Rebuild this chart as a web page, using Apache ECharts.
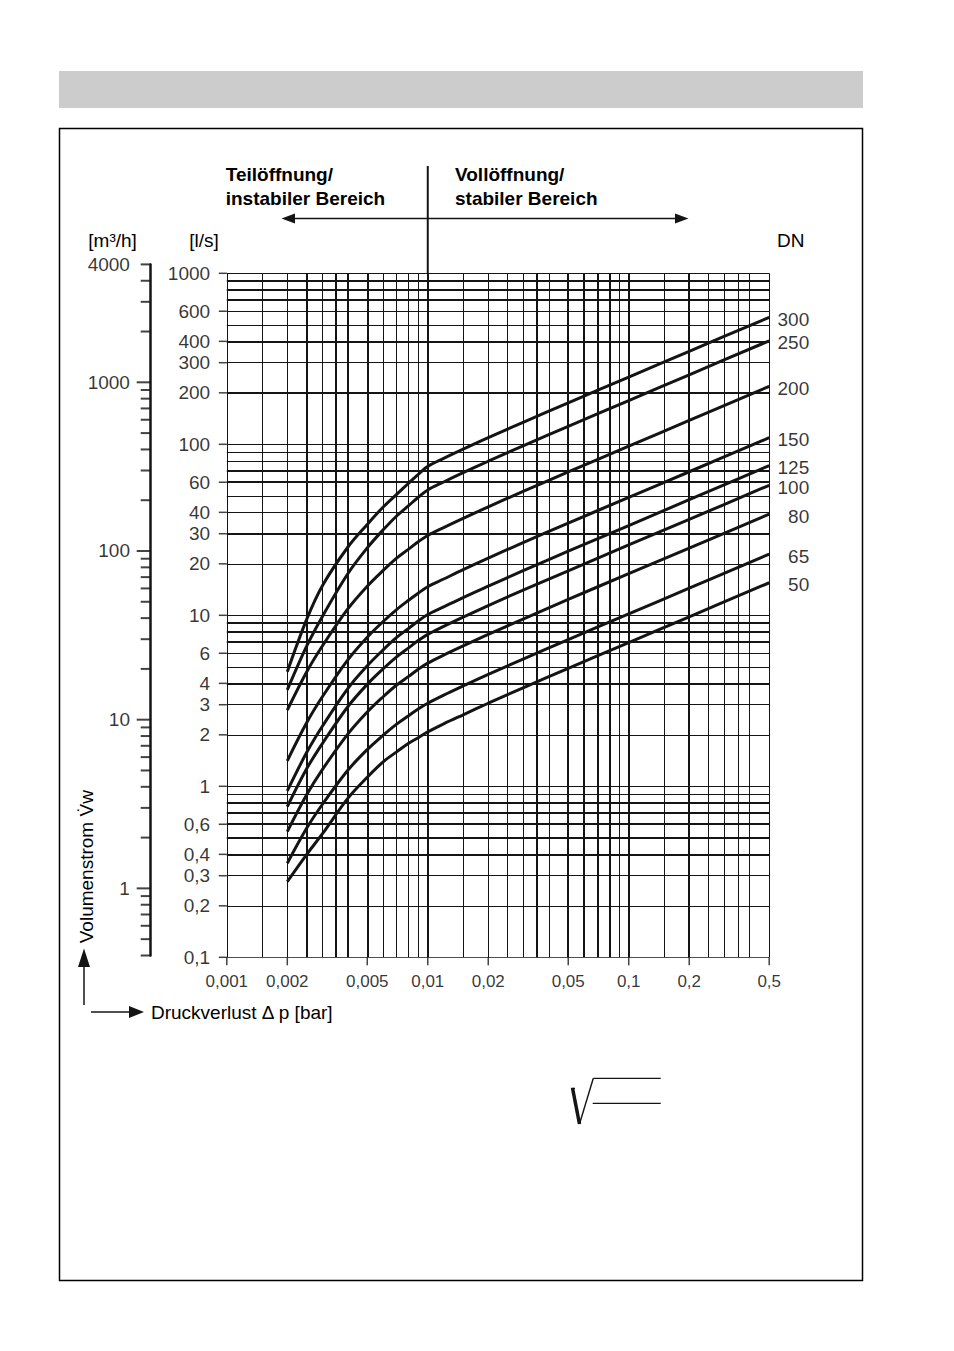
<!DOCTYPE html>
<html><head><meta charset="utf-8">
<script src="https://cdn.jsdelivr.net/npm/echarts@6/dist/echarts.min.js"></script>
<style>html,body{margin:0;padding:0;background:#fff;overflow:hidden}#c{width:954px;height:1351px}</style>
</head><body><div id="c"></div>
<script>
// ---- data ----
const pressureDrop = [0.002,0.0025,0.003,0.004,0.005,0.006,0.007,0.008,0.009,0.01,0.012,0.015,0.02,0.03,0.05,0.1,0.2,0.5];
const dn300 = [4.68,9.5,15,25,34,43,51,59,67,74.3,82.7,93.6,109.3,134.9,174.9,247.3,349.8,553];
const dn250 = [3.66,6.62,9.92,17.5,24.8,31.6,38.1,43.6,49.2,54.1,60.2,68.2,79.6,98.3,127.4,180.2,254.9,403];
const dn200 = [2.79,4.68,6.66,10.9,14.8,18.3,21.6,24.3,27.0,29.3,32.6,36.9,43.1,53.2,68.9,97.5,137.9,218];
const dn150 = [1.41,2.36,3.36,5.49,7.45,9.2,10.8,12.2,13.5,14.7,16.3,18.5,21.6,26.7,34.6,48.9,69.1,109.3];
const dn125 = [0.94,1.58,2.26,3.73,5.07,6.28,7.42,8.35,9.29,10.1,11.2,12.7,14.8,18.3,23.7,33.5,47.4,75];
const dn100 = [0.76,1.27,1.79,2.92,3.95,4.87,5.72,6.43,7.14,7.74,8.61,9.75,11.4,14.1,18.2,25.8,36.4,57.6];
const dn80  = [0.543,0.895,1.26,2.02,2.72,3.34,3.91,4.38,4.85,5.25,5.85,6.62,7.73,9.54,12.4,17.5,24.7,39.1];
const dn65  = [0.355,0.57,0.788,1.24,1.64,1.99,2.31,2.58,2.84,3.06,3.41,3.86,4.51,5.56,7.21,10.2,14.4,22.8];
const dn50  = [0.277,0.4,0.53,0.85,1.13,1.39,1.59,1.78,1.93,2.08,2.32,2.62,3.06,3.78,4.9,6.93,9.8,15.5];
const dnNames = ['300','250','200','150','125','100','80','65','50'];

const xGrid = [0.001,0.0015,0.002,0.0025,0.003,0.0035,0.004,0.005,0.006,0.007,0.008,0.009,
  0.01,0.015,0.02,0.025,0.03,0.035,0.04,0.05,0.06,0.07,0.08,0.09,
  0.1,0.15,0.2,0.25,0.3,0.35,0.4,0.5];
const xGridBold = [0.0025,0.0035,0.004,0.005,0.01,0.035,0.05,0.06,0.07,0.08,0.1,0.2];
const yGrid = [0.1,0.2,0.3,0.4,0.5,0.6,0.7,0.8,0.9,1,2,3,4,5,6,7,8,9,
  10,20,30,40,50,60,70,80,90,100,200,300,400,500,600,700,800,900,1000];
const yGridBold = [0.1,0.4,0.5,0.6,0.7,0.8,4,7,8,9,30,60,70,200,400,700,800,900];

const xLabelValues = [0.001,0.002,0.005,0.01,0.02,0.05,0.1,0.2,0.5];
const xLabelTexts = ['0,001','0,002','0,005','0,01','0,02','0,05','0,1','0,2','0,5'];
const yLabelValues = [1000,600,400,300,200,100,60,40,30,20,10,6,4,3,2,1,0.6,0.4,0.3,0.2,0.1];
const yLabelTexts = ['1000','600','400','300','200','100','60','40','30','20','10','6','4','3','2','1','0,6','0,4','0,3','0,2','0,1'];

const m3hMajor = [1,10,100,1000];
const m3hMinor = [0.4,0.5,0.6,0.7,0.8,0.9,2,3,4,5,6,7,8,9,20,30,40,50,60,70,80,90,200,300,400,500,600,700,800,900,2000,3000,4000,5000];
const m3hLabelValues = [1,10,100,1000,5000];
const m3hLabelTexts = ['1','10','100','1000','4000'];

// ---- drawing ----
const FONT = '"Liberation Sans", Arial, Helvetica, sans-serif';
const INK = '#000000';
const LINE = '#141414';
const chart = echarts.init(document.getElementById('c'), null, {renderer:'svg', width:954, height:1351});

const curves = [dn300,dn250,dn200,dn150,dn125,dn100,dn80,dn65,dn50];

const gridLineData = [];
xGrid.forEach(v => gridLineData.push({coords:[[v,0.1],[v,1000]], lineStyle:{width: xGridBold.indexOf(v) >= 0 ? 2 : 1}}));
yGrid.forEach(v => gridLineData.push({coords:[[0.001,v],[0.5,v]], lineStyle:{width: yGridBold.indexOf(v) >= 0 ? 2 : 1}}));

const series = [];
series.push({
  type:'lines', coordinateSystem:'cartesian2d', xAxisIndex:0, yAxisIndex:0,
  data: gridLineData, silent:true, z:1,
  lineStyle:{color:LINE, width:1, opacity:1}
});
curves.forEach((arr, k) => {
  series.push({
    type:'line', name: dnNames[k], xAxisIndex:0, yAxisIndex:0,
    data: pressureDrop.map((x,i) => [x, arr[i]]),
    symbol:'none', showSymbol:false, smooth:0.35, silent:true, z:5,
    lineStyle:{color:LINE, width:3}
  });
});
// DN labels at curve ends
series.push({
  type:'scatter', xAxisIndex:0, yAxisIndex:0, clip:false, silent:true, z:6,
  symbolSize:0.1, itemStyle:{color:'rgba(0,0,0,0)'},
  data: curves.map(arr => [pressureDrop[pressureDrop.length-1], arr[arr.length-1]]),
  label:{show:true, position:'right', distance:40, align:'right', offset:[0,2],
    formatter: p => dnNames[p.dataIndex], fontFamily:FONT, fontSize:19, color:INK}
});
// l/s ticks + labels
series.push({
  type:'scatter', xAxisIndex:0, yAxisIndex:0, clip:false, silent:true, z:3,
  symbol:'rect', symbolSize:[8,1.5], symbolOffset:[-4,0], itemStyle:{color:LINE},
  data: yLabelValues.map(v => [0.001, v])
});
series.push({
  type:'scatter', xAxisIndex:0, yAxisIndex:0, clip:false, silent:true, z:3,
  symbolSize:0.1, itemStyle:{color:'rgba(0,0,0,0)'},
  data: yLabelValues.map(v => [0.001, v]),
  label:{show:true, position:'left', distance:16.6, formatter: p => yLabelTexts[p.dataIndex],
    fontFamily:FONT, fontSize:19, color:INK}
});
// x ticks + labels
series.push({
  type:'scatter', xAxisIndex:0, yAxisIndex:0, clip:false, silent:true, z:3,
  symbol:'rect', symbolSize:[1.5,8], symbolOffset:[0,4], itemStyle:{color:LINE},
  data: xLabelValues.map(v => [v, 0.1])
});
series.push({
  type:'scatter', xAxisIndex:0, yAxisIndex:0, clip:false, silent:true, z:3,
  symbolSize:0.1, itemStyle:{color:'rgba(0,0,0,0)'},
  data: xLabelValues.map(v => [v, 0.1]),
  label:{show:true, position:'bottom', distance:16, formatter: p => xLabelTexts[p.dataIndex],
    fontFamily:FONT, fontSize:17, color:INK}
});
// m3/h axis ticks + labels
series.push({
  type:'scatter', xAxisIndex:1, yAxisIndex:1, clip:false, silent:true, z:3,
  symbol:'rect', symbolSize:[14,2], symbolOffset:[-7,0], itemStyle:{color:LINE},
  data: m3hMajor.map(v => [0, v])
});
series.push({
  type:'scatter', xAxisIndex:1, yAxisIndex:1, clip:false, silent:true, z:3,
  symbol:'rect', symbolSize:[10,2], symbolOffset:[-5,0], itemStyle:{color:LINE},
  data: m3hMinor.map(v => [0, v])
});
series.push({
  type:'scatter', xAxisIndex:1, yAxisIndex:1, clip:false, silent:true, z:3,
  symbolSize:0.1, itemStyle:{color:'rgba(0,0,0,0)'},
  data: m3hLabelValues.map(v => [0, v]),
  label:{show:true, position:'left', distance:20.7, formatter: p => m3hLabelTexts[p.dataIndex],
    fontFamily:FONT, fontSize:19, color:INK}
});

const hiddenAxis = {axisLine:{show:false}, axisTick:{show:false}, axisLabel:{show:false}, splitLine:{show:false}, minorTick:{show:false}, minorSplitLine:{show:false}};

chart.setOption({
  animation:false,
  backgroundColor:'#ffffff',
  textStyle:{fontFamily:FONT},
  grid:[
    {left:226.8, top:273.3, width:542.4, height:684, containLabel:false, outerBoundsMode:'none'},
    {left:150.7, top:264.4, width:10, height:691.1, containLabel:false, outerBoundsMode:'none'}
  ],
  xAxis:[
    Object.assign({type:'log', logBase:10, min:0.001, max:0.5, gridIndex:0}, hiddenAxis),
    Object.assign({type:'value', min:0, max:1, gridIndex:1, show:false}, hiddenAxis)
  ],
  yAxis:[
    Object.assign({type:'log', logBase:10, min:0.1, max:1000, gridIndex:0}, hiddenAxis),
    Object.assign({}, hiddenAxis, {type:'log', logBase:10, min:0.4, max:5000, gridIndex:1, position:'left',
      axisLine:{show:true, onZero:false, lineStyle:{color:LINE, width:2.5}}})
  ],
  series: series
});

// ---- decorations (positions tied to the axes where relevant) ----
const divX = chart.convertToPixel({xAxisIndex:0}, 0.01);
const plotTop = chart.convertToPixel({yAxisIndex:0}, 1000);
const arrowY = 218.5;
function txt(x, y, text, font, extra) {
  return Object.assign({type:'text', x:x, y:y, silent:true,
    style:{text:text, font:font, fill:INK, align:'left', verticalAlign:'middle'}}, extra || {});
}
const boldF = 'bold 19px ' + FONT;
const regF = '19px ' + FONT;
const graphics = [
  {type:'rect', shape:{x:59, y:71, width:804, height:37}, style:{fill:'#cccccc'}, silent:true, z:-10},
  {type:'rect', shape:{x:59.5, y:128.5, width:803, height:1152}, style:{fill:'none', stroke:'#000', lineWidth:1.5}, silent:true},
  {type:'line', shape:{x1:divX, y1:166, x2:divX, y2:plotTop}, style:{stroke:LINE, lineWidth:2}, silent:true},
  // left arrow
  {type:'line', shape:{x1:divX, y1:arrowY, x2:292, y2:arrowY}, style:{stroke:LINE, lineWidth:1.3}, silent:true},
  {type:'polygon', shape:{points:[[281.5,arrowY],[295,arrowY-5],[295,arrowY+5]]}, style:{fill:LINE}, silent:true},
  // right arrow
  {type:'line', shape:{x1:divX, y1:arrowY, x2:678, y2:arrowY}, style:{stroke:LINE, lineWidth:1.3}, silent:true},
  {type:'polygon', shape:{points:[[688.5,arrowY],[675,arrowY-5],[675,arrowY+5]]}, style:{fill:LINE}, silent:true},
  txt(225.7, 174, 'Teilöffnung/', boldF),
  txt(225.7, 198.3, 'instabiler Bereich', boldF),
  txt(455, 174, 'Vollöffnung/', boldF),
  txt(455, 198.3, 'stabiler Bereich', boldF),
  txt(777, 240.4, 'DN', regF),
  txt(88.3, 240.4, '[m³/h]', regF),
  txt(189.3, 240.4, '[l/s]', regF),
  txt(151, 1012, 'Druckverlust Δ p [bar]', regF),
  {type:'text', x:86, y:866.7, rotation:Math.PI/2, silent:true,
    style:{text:'Volumenstrom V̇w', font:regF, fill:INK, align:'center', verticalAlign:'middle'}},
  // axis arrows bottom-left
  {type:'line', shape:{x1:84, y1:966, x2:84, y2:1005}, style:{stroke:LINE, lineWidth:1.5}, silent:true},
  {type:'polygon', shape:{points:[[84,948.5],[78,967],[90,967]]}, style:{fill:LINE}, silent:true},
  {type:'line', shape:{x1:91, y1:1012, x2:132, y2:1012}, style:{stroke:LINE, lineWidth:1.5}, silent:true},
  {type:'polygon', shape:{points:[[144,1012],[129,1006],[129,1018]]}, style:{fill:LINE}, silent:true},
  // square-root sign
  {type:'line', shape:{x1:572.5, y1:1088, x2:579.5, y2:1124}, style:{stroke:LINE, lineWidth:3.5}, silent:true},
  {type:'line', shape:{x1:571, y1:1088.5, x2:575, y2:1088.5}, style:{stroke:LINE, lineWidth:1.5}, silent:true},
  {type:'line', shape:{x1:579.5, y1:1124, x2:593.3, y2:1078.3}, style:{stroke:LINE, lineWidth:1.4}, silent:true},
  {type:'line', shape:{x1:593.3, y1:1078.3, x2:660.7, y2:1078.3}, style:{stroke:LINE, lineWidth:1.2}, silent:true},
  {type:'line', shape:{x1:592.7, y1:1103.3, x2:660.7, y2:1103.3}, style:{stroke:LINE, lineWidth:1.2}, silent:true}
];
chart.setOption({graphic:{elements:graphics}});
</script>
</body></html>
